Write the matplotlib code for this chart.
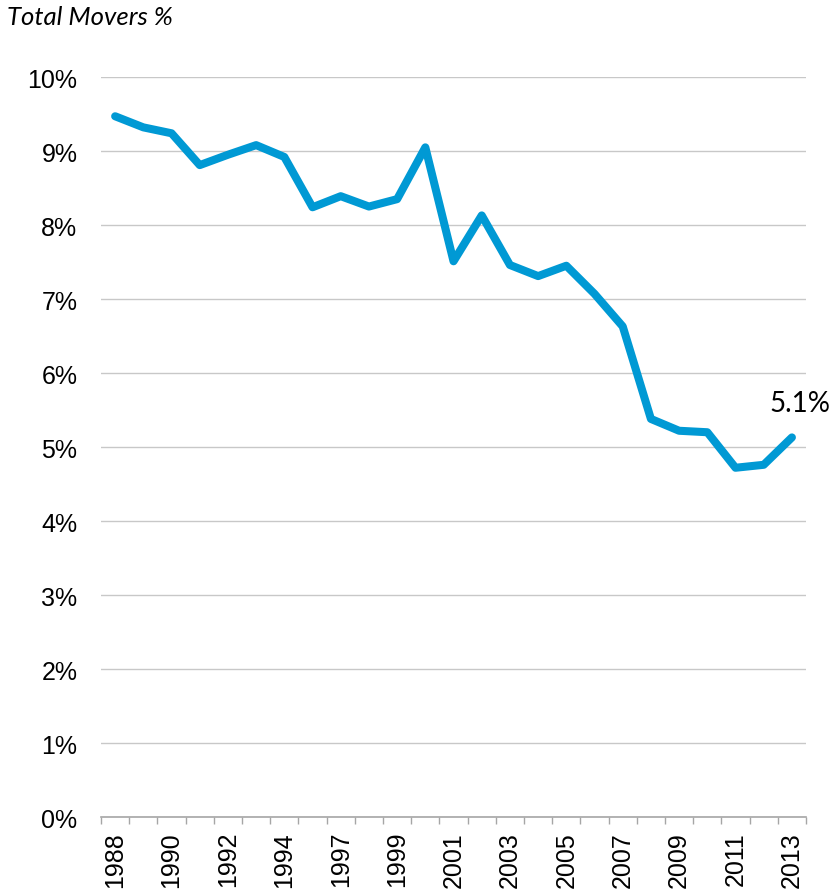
import matplotlib
matplotlib.use('Agg')
import matplotlib.pyplot as plt
from matplotlib.ticker import FuncFormatter

# share of people who moved, per year (one survey year is missing)
years = ['1988', '1989', '1990', '1991', '1992', '1993', '1994', '1996',
         '1997', '1998', '1999', '2000', '2001', '2002', '2003', '2004',
         '2005', '2006', '2007', '2008', '2009', '2010', '2011', '2012', '2013']
movers = [9.47, 9.32, 9.24, 8.81, 8.95, 9.08, 8.92, 8.24,
          8.39, 8.25, 8.35, 9.05, 7.51, 8.13, 7.46, 7.31,
          7.45, 7.07, 6.63, 5.38, 5.22, 5.20, 4.72, 4.76, 5.13]
last_label = '5.1%'
title = 'Total Movers %'

blue = '#0099d4'
grid_grey = '#c8c8c8'
axis_grey = '#a6a6a6'

fig = plt.figure(figsize=(8.33, 8.95), dpi=100)
ax = fig.add_axes([0.1213, 0.0860, 0.8463, 0.8268])

x = list(range(len(years)))
ax.plot(x, movers, color=blue, lw=5.8, solid_capstyle='round',
        solid_joinstyle='round', zorder=3)

ax.set_xlim(-0.5, len(years) - 0.5)
ax.set_ylim(0, 10)

# y axis: gridlines every 1%, no axis line
ax.set_yticks(range(0, 11))
ax.yaxis.set_major_formatter(FuncFormatter(lambda v, p: '%d%%' % v))
ax.yaxis.grid(True, color=grid_grey, lw=1.0)
ax.set_axisbelow(True)
ax.tick_params(axis='y', length=0, pad=17, labelsize=18)

# x axis: labels on every other year, ticks between categories
ax.set_xticks(x[::2])
ax.set_xticklabels(years[::2], rotation=90)
ax.set_xticks([i - 0.5 for i in range(len(years) + 1)], minor=True)
ax.tick_params(axis='x', which='major', length=0, pad=10, labelsize=18)
ax.tick_params(axis='x', which='minor', length=5, width=1.0, color=axis_grey)

for s in ['top', 'right', 'left']:
    ax.spines[s].set_visible(False)
ax.spines['bottom'].set_color(axis_grey)
ax.spines['bottom'].set_linewidth(1.2)

for lab in ax.get_xticklabels() + ax.get_yticklabels():
    lab.set_fontfamily('Liberation Sans')

ax.annotate(last_label, xy=(x[-1], movers[-1]), xytext=(6, 19),
            textcoords='offset points', ha='center', va='baseline',
            fontsize=20, family='Lato', color='black')

fig.text(0.008, 0.972, title, fontsize=18.5, family='Lato', style='italic',
         ha='left', va='baseline')

plt.savefig('out.png', dpi=100)
